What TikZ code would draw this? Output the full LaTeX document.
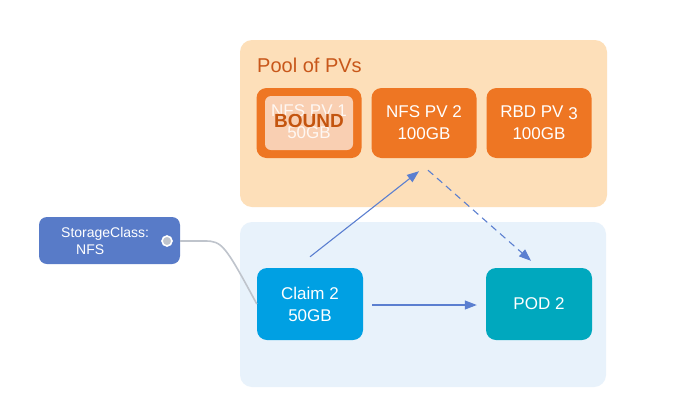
\documentclass[tikz,border=0pt]{standalone}
\usepackage{fontspec}
\setmainfont{Liberation Sans}
\usetikzlibrary{arrows.meta,calc}
\definecolor{poolbg}{HTML}{FDDFB9}
\definecolor{poolfg}{HTML}{C8571A}
\definecolor{pvorange}{HTML}{EE7623}
\definecolor{boundfill}{HTML}{F9CFB2}
\definecolor{boundtxt}{HTML}{C4540E}
\definecolor{nsbg}{HTML}{E8F2FB}
\definecolor{scblue}{HTML}{587BC8}
\definecolor{claimblue}{HTML}{00A0E3}
\definecolor{podteal}{HTML}{00A8BE}
\definecolor{arrowblue}{HTML}{5B7FD0}
\definecolor{linkgrey}{HTML}{BFC4CC}
\tikzset{
  region/.style={rounded corners=12pt, draw=none},
  pvbox/.style={rounded corners=10pt, fill=pvorange, draw=none, minimum width=105pt, minimum height=70pt, text=white, align=center, font=\fontsize{17}{22}\selectfont, inner sep=0pt},
  kbox/.style={rounded corners=10pt, draw=none, minimum width=106pt, minimum height=72pt, text=white, align=center, font=\fontsize{17}{22}\selectfont, inner sep=0pt},
  flow/.style={arrowblue, line width=1.1pt, -{Triangle[length=12pt,width=9pt]}},
}
\begin{document}
\begin{tikzpicture}[x=1pt,y=-1pt]
\useasboundingbox[fill=white] (0,0) rectangle (681,416);
% regions
\fill[region, poolbg] (240,40) rectangle (607,207);
\fill[region, nsbg] (240,222) rectangle (606,387);
\node[anchor=west, text=poolfg, font=\fontsize{20}{22}\selectfont, inner sep=0pt] (pooltitle) at (257,65) {Pool of PVs};
% PVs
\node[pvbox] (pv1) at (309,123) {};
\node[rounded corners=6pt, fill=boundfill, minimum width=88pt, minimum height=54pt, inner sep=0pt] (pv1in) at (309,123) {};
\node[text=white, opacity=0.85, align=center, font=\fontsize{17}{22}\selectfont, inner sep=0pt] (pv1txt) at (309,122) {NFS PV 1\\50GB};
\node[text=boundtxt, font=\bfseries\fontsize{19}{20}\selectfont, inner sep=0pt] (bound) at (309,121) {BOUND};
\node[pvbox] (pv2) at (424,123) {NFS PV 2\\100GB};
\node[pvbox] (pv3) at (539,123) {RBD PV \raisebox{-1.5pt}{3}\\100GB};
% StorageClass
\node[rounded corners=8pt, fill=scblue, minimum width=141pt, minimum height=47pt, inner sep=0pt] (sc) at (109.5,240.5) {};
\node[text=white, align=left, anchor=west, font=\fontsize{14}{17}\selectfont, inner sep=0pt] (sctxt) at (61,241) {StorageClass:\\\hspace{15pt}NFS};
\node[circle, fill=linkgrey, draw=white, line width=1.6pt, minimum size=10pt, inner sep=0pt] (port) at (167,241) {};
% claim and pod
\node[kbox, fill=claimblue] (claim) at (310,304) {Claim 2\\50GB};
\node[kbox, fill=podteal] (pod) at (539,304) {POD 2};
% connectors
\draw[linkgrey, line width=1.6pt] (sc.east |- port) -- (205,241) .. controls (222,241) and (225,245) .. (claim.west);
\coordinate (a1s) at ($(claim.north)+(0,-11)$);
\coordinate (a1e) at ($(pv2.south)+(-5,13)$);
\draw[flow] (a1s) -- (a1e);
\coordinate (a2s) at ($(pv2.south)+(4,12)$);
\coordinate (a2e) at ($(pod.north)+(-8,-7)$);
\draw[flow, dash pattern=on 7pt off 5pt] (a2s) -- (a2e);
\draw[flow] ($(claim.east)+(9,1)$) -- ($(pod.west)+(-9,1)$);
\end{tikzpicture}
\end{document}
